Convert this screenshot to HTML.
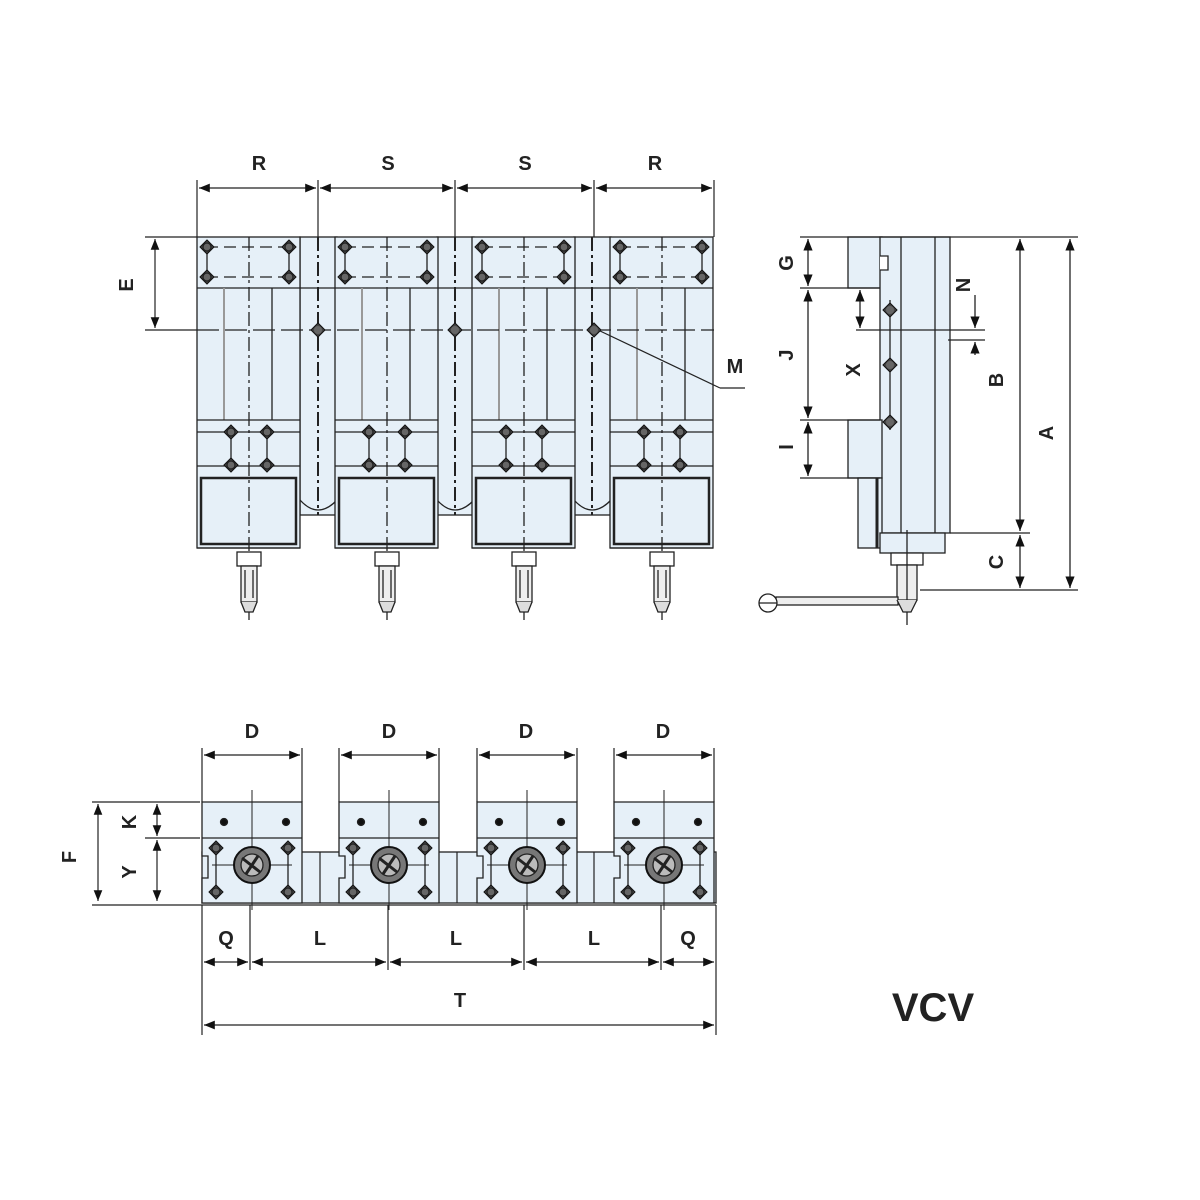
<!DOCTYPE html>
<html><head><meta charset="utf-8"><style>
html,body{margin:0;padding:0;background:#fff}
svg{display:block}
text{font-family:"Liberation Sans",sans-serif;font-weight:bold;fill:#222}
</style></head><body>
<svg width="1200" height="1200" viewBox="0 0 1200 1200" xmlns="http://www.w3.org/2000/svg">
<defs>
<marker id="ar" viewBox="0 0 10 10" refX="10" refY="5" markerWidth="9" markerHeight="9" orient="auto-start-reverse"><path d="M0,1 L10,5 L0,9z" fill="#111"/></marker>
<g id="bolt"><path d="M-7,0 L0,-7 L7,0 L0,7z" fill="#444" stroke="#111" stroke-width="1"/><circle r="4" fill="#666"/></g>
<g id="fmod" stroke="#222" stroke-width="1.3" fill="none">
<rect x="0" y="237" width="103" height="311" fill="#e6f0f8"/>
<line x1="0" y1="288" x2="103" y2="288"/>
<line x1="9" y1="247" x2="94" y2="247" stroke-dasharray="12,6"/>
<line x1="9" y1="277" x2="94" y2="277" stroke-dasharray="12,6"/>
<line x1="10" y1="247" x2="10" y2="277"/><line x1="92" y1="247" x2="92" y2="277"/>
<line x1="27" y1="288" x2="27" y2="420" stroke="#999" stroke-width="2"/>
<line x1="75" y1="288" x2="75" y2="420"/>
<line x1="52" y1="237" x2="52" y2="620" stroke-dasharray="14,4,3,4"/>
<line x1="0" y1="420" x2="103" y2="420"/>
<line x1="0" y1="432" x2="103" y2="432"/>
<line x1="0" y1="466" x2="103" y2="466"/>
<line x1="34" y1="432" x2="34" y2="465"/><line x1="70" y1="432" x2="70" y2="465"/>
<rect x="4" y="478" width="95" height="66" stroke-width="2.5"/>
<line x1="0" y1="548" x2="103" y2="548"/>
<rect x="40" y="552" width="24" height="14" fill="#fff"/>
<rect x="44" y="566" width="16" height="36" fill="#eee"/>
<line x1="48" y1="570" x2="48" y2="598"/><line x1="56" y1="570" x2="56" y2="598"/>
<path d="M44,602 L48,612 L56,612 L60,602" fill="#ddd"/>
<use href="#bolt" x="10" y="247"/><use href="#bolt" x="92" y="247"/>
<use href="#bolt" x="10" y="277"/><use href="#bolt" x="92" y="277"/>
<use href="#bolt" x="34" y="432"/><use href="#bolt" x="70" y="432"/>
<use href="#bolt" x="34" y="465"/><use href="#bolt" x="70" y="465"/>
</g>
<g id="conn" stroke="#222" stroke-width="1.3" fill="none">
<rect x="0" y="237" width="37" height="278" fill="#e6f0f8"/>
<line x1="0" y1="288" x2="37" y2="288"/>
<line x1="18" y1="237" x2="18" y2="515" stroke-dasharray="14,4,3,4" stroke-width="2"/>
<path d="M0,500 Q18,520 37,500"/>
</g>
<g id="tmod" stroke="#222" stroke-width="1.3">
<path d="M0,802 H100 V903 H0 V878 H6 V856 H0z" fill="#e6f0f8"/>
<line x1="0" y1="838" x2="100" y2="838"/>
<line x1="50" y1="790" x2="50" y2="910" stroke-width="1"/>
<circle cx="22" cy="822" r="3.5" fill="#111"/><circle cx="84" cy="822" r="3.5" fill="#111"/>
<line x1="14" y1="848" x2="14" y2="892"/><line x1="86" y1="848" x2="86" y2="892"/>
<use href="#bolt" x="14" y="848"/><use href="#bolt" x="86" y="848"/>
<use href="#bolt" x="14" y="892"/><use href="#bolt" x="86" y="892"/>
<line x1="10" y1="865" x2="90" y2="865" stroke-width="1"/>
<circle cx="50" cy="865" r="18" fill="#777" stroke="#111" stroke-width="2"/>
<circle cx="50" cy="865" r="11" fill="#bbb"/>
<path d="M40,858 L58,872 M44,874 L56,856" stroke="#222" stroke-width="3"/>
</g>
</defs>

<!-- FRONT VIEW -->
<g stroke="#222" stroke-width="1.2" fill="none">
<line x1="197" y1="180" x2="197" y2="237"/><line x1="318" y1="180" x2="318" y2="237"/>
<line x1="455" y1="180" x2="455" y2="237"/><line x1="594" y1="180" x2="594" y2="237"/>
<line x1="714" y1="180" x2="714" y2="237"/>
<line x1="199" y1="188" x2="316" y2="188" marker-start="url(#ar)" marker-end="url(#ar)"/>
<line x1="320" y1="188" x2="453" y2="188" marker-start="url(#ar)" marker-end="url(#ar)"/>
<line x1="457" y1="188" x2="592" y2="188" marker-start="url(#ar)" marker-end="url(#ar)"/>
<line x1="596" y1="188" x2="712" y2="188" marker-start="url(#ar)" marker-end="url(#ar)"/>
<line x1="145" y1="237" x2="197" y2="237"/><line x1="145" y1="330" x2="197" y2="330"/>
<line x1="155" y1="239" x2="155" y2="328" marker-start="url(#ar)" marker-end="url(#ar)"/>
</g>
<use href="#conn" x="300"/><use href="#conn" x="437"/><use href="#conn" x="574"/>
<use href="#fmod" x="197"/><use href="#fmod" x="335"/><use href="#fmod" x="472"/><use href="#fmod" x="610"/>
<g stroke="#222" stroke-width="1.2" fill="none">
<line x1="197" y1="330" x2="714" y2="330" stroke-dasharray="22,6"/>
<line x1="598" y1="330" x2="720" y2="388"/><line x1="720" y1="388" x2="745" y2="388"/>
</g>
<use href="#bolt" x="318" y="330"/><use href="#bolt" x="455" y="330"/><use href="#bolt" x="594" y="330"/>
<text x="259" y="170" font-size="20" text-anchor="middle">R</text>
<text x="388" y="170" font-size="20" text-anchor="middle">S</text>
<text x="525" y="170" font-size="20" text-anchor="middle">S</text>
<text x="655" y="170" font-size="20" text-anchor="middle">R</text>
<text x="735" y="373" font-size="20" text-anchor="middle">M</text>
<text transform="translate(133,285) rotate(-90)" font-size="20" text-anchor="middle">E</text>

<!-- SIDE VIEW -->
<g stroke="#222" stroke-width="1.3" fill="#e6f0f8">
<rect x="848" y="237" width="34" height="51"/>
<rect x="880" y="237" width="70" height="296"/>
<rect x="848" y="420" width="34" height="58"/>
<rect x="858" y="478" width="24" height="70"/>
<rect x="880" y="533" width="65" height="20"/>
<rect x="891" y="553" width="32" height="12" fill="#fff"/>
<rect x="897" y="565" width="20" height="35" fill="#eee"/>
</g>
<g stroke="#222" stroke-width="1.3" fill="none">
<line x1="901" y1="237" x2="901" y2="533"/><line x1="935" y1="237" x2="935" y2="533"/>
<line x1="877" y1="478" x2="877" y2="548" stroke-width="3"/>
<path d="M880,256 H888 V270 H880" fill="#fff"/>
<line x1="890" y1="300" x2="890" y2="430"/>
<line x1="907" y1="530" x2="907" y2="625"/>
<line x1="800" y1="237" x2="1078" y2="237"/>
<line x1="800" y1="288" x2="880" y2="288"/>
<line x1="800" y1="420" x2="880" y2="420"/>
<line x1="800" y1="478" x2="880" y2="478"/>
<line x1="856" y1="330" x2="985" y2="330"/>
<line x1="948" y1="340" x2="985" y2="340"/>
<line x1="950" y1="533" x2="1030" y2="533"/>
<line x1="920" y1="590" x2="1078" y2="590"/>
<line x1="808" y1="239" x2="808" y2="286" marker-start="url(#ar)" marker-end="url(#ar)"/>
<line x1="808" y1="290" x2="808" y2="418" marker-start="url(#ar)" marker-end="url(#ar)"/>
<line x1="808" y1="422" x2="808" y2="476" marker-start="url(#ar)" marker-end="url(#ar)"/>
<line x1="860" y1="290" x2="860" y2="328" marker-start="url(#ar)" marker-end="url(#ar)"/>
<line x1="975" y1="295" x2="975" y2="328" marker-end="url(#ar)"/>
<line x1="975" y1="355" x2="975" y2="342" marker-end="url(#ar)"/>
<line x1="1020" y1="239" x2="1020" y2="531" marker-start="url(#ar)" marker-end="url(#ar)"/>
<line x1="1020" y1="535" x2="1020" y2="588" marker-start="url(#ar)" marker-end="url(#ar)"/>
<line x1="1070" y1="239" x2="1070" y2="588" marker-start="url(#ar)" marker-end="url(#ar)"/>
<rect x="776" y="597" width="122" height="8" fill="#eee"/>
<circle cx="768" cy="603" r="9" fill="#fff"/>
<line x1="759" y1="603" x2="777" y2="603"/>
<path d="M897,600 L903,612 L911,612 L917,600" fill="#ddd"/>
</g>
<use href="#bolt" x="890" y="310" transform="scale(1)"/>
<use href="#bolt" x="890" y="365"/><use href="#bolt" x="890" y="422"/>
<g font-size="20">
<text transform="translate(793,263) rotate(-90)" text-anchor="middle">G</text>
<text transform="translate(793,355) rotate(-90)" text-anchor="middle">J</text>
<text transform="translate(793,447) rotate(-90)" text-anchor="middle">I</text>
<text transform="translate(860,370) rotate(-90)" text-anchor="middle">X</text>
<text transform="translate(970,285) rotate(-90)" text-anchor="middle">N</text>
<text transform="translate(1003,380) rotate(-90)" text-anchor="middle">B</text>
<text transform="translate(1053,433) rotate(-90)" text-anchor="middle">A</text>
<text transform="translate(1003,562) rotate(-90)" text-anchor="middle">C</text>
</g>

<!-- TOP VIEW -->
<rect x="202" y="852" width="514" height="51" fill="#e6f0f8" stroke="#222" stroke-width="1.3"/>
<g stroke="#222" stroke-width="1.2"><line x1="320" y1="852" x2="320" y2="903"/><line x1="457" y1="852" x2="457" y2="903"/><line x1="594" y1="852" x2="594" y2="903"/></g>
<use href="#tmod" x="202"/><use href="#tmod" x="339"/><use href="#tmod" x="477"/><use href="#tmod" x="614"/>
<g stroke="#222" stroke-width="1.2" fill="none">
<line x1="202" y1="748" x2="202" y2="802"/><line x1="302" y1="748" x2="302" y2="802"/>
<line x1="339" y1="748" x2="339" y2="802"/><line x1="439" y1="748" x2="439" y2="802"/>
<line x1="477" y1="748" x2="477" y2="802"/><line x1="577" y1="748" x2="577" y2="802"/>
<line x1="614" y1="748" x2="614" y2="802"/><line x1="714" y1="748" x2="714" y2="802"/>
<line x1="204" y1="755" x2="300" y2="755" marker-start="url(#ar)" marker-end="url(#ar)"/>
<line x1="341" y1="755" x2="437" y2="755" marker-start="url(#ar)" marker-end="url(#ar)"/>
<line x1="479" y1="755" x2="575" y2="755" marker-start="url(#ar)" marker-end="url(#ar)"/>
<line x1="616" y1="755" x2="712" y2="755" marker-start="url(#ar)" marker-end="url(#ar)"/>
<line x1="92" y1="802" x2="200" y2="802"/><line x1="145" y1="838" x2="200" y2="838"/>
<line x1="92" y1="905" x2="716" y2="905"/>
<line x1="98" y1="804" x2="98" y2="901" marker-start="url(#ar)" marker-end="url(#ar)"/>
<line x1="157" y1="804" x2="157" y2="836" marker-start="url(#ar)" marker-end="url(#ar)"/>
<line x1="157" y1="840" x2="157" y2="901" marker-start="url(#ar)" marker-end="url(#ar)"/>
<line x1="202" y1="905" x2="202" y2="1035"/><line x1="250" y1="905" x2="250" y2="970"/>
<line x1="388" y1="905" x2="388" y2="970"/><line x1="524" y1="905" x2="524" y2="970"/>
<line x1="661" y1="905" x2="661" y2="970"/><line x1="716" y1="905" x2="716" y2="1035"/>
<line x1="204" y1="962" x2="248" y2="962" marker-start="url(#ar)" marker-end="url(#ar)"/>
<line x1="252" y1="962" x2="386" y2="962" marker-start="url(#ar)" marker-end="url(#ar)"/>
<line x1="390" y1="962" x2="522" y2="962" marker-start="url(#ar)" marker-end="url(#ar)"/>
<line x1="526" y1="962" x2="659" y2="962" marker-start="url(#ar)" marker-end="url(#ar)"/>
<line x1="663" y1="962" x2="714" y2="962" marker-start="url(#ar)" marker-end="url(#ar)"/>
<line x1="204" y1="1025" x2="714" y2="1025" marker-start="url(#ar)" marker-end="url(#ar)"/>
</g>
<g font-size="20" text-anchor="middle">
<text x="252" y="738">D</text><text x="389" y="738">D</text><text x="526" y="738">D</text><text x="663" y="738">D</text>
<text x="226" y="945">Q</text><text x="320" y="945">L</text><text x="456" y="945">L</text><text x="594" y="945">L</text><text x="688" y="945">Q</text>
<text x="460" y="1007">T</text>
<text transform="translate(76,857) rotate(-90)">F</text>
<text transform="translate(136,822) rotate(-90)">K</text>
<text transform="translate(136,872) rotate(-90)">Y</text>
</g>
<text x="933" y="1021" font-size="40" text-anchor="middle">VCV</text>
</svg>
</body></html>
